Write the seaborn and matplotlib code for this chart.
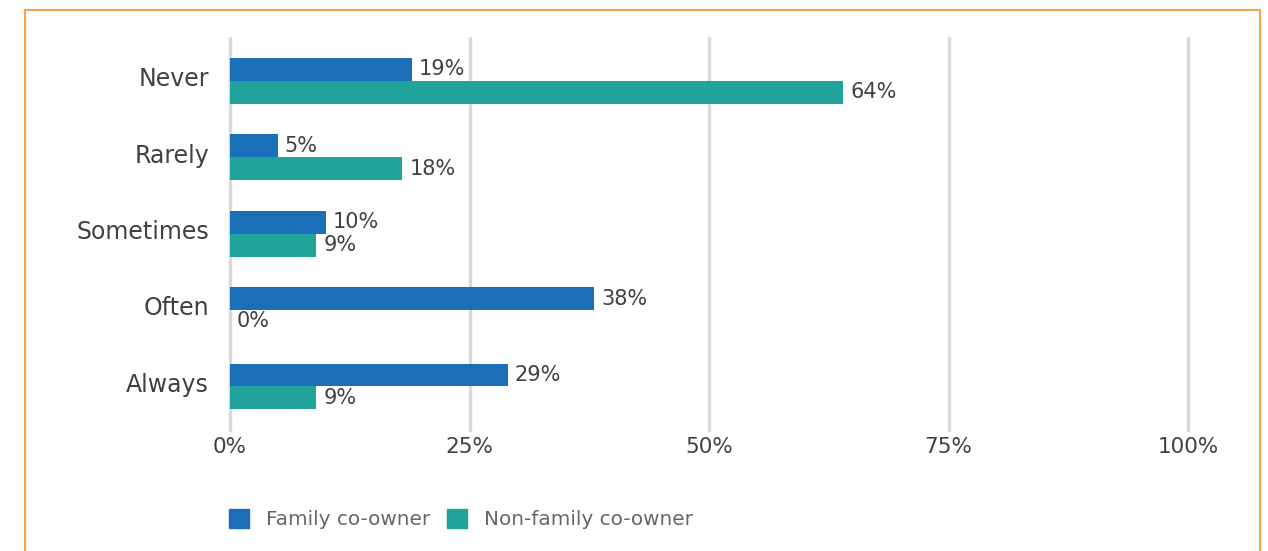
import matplotlib
matplotlib.use("Agg")
import matplotlib.pyplot as plt
import matplotlib.patches as mpatches
import matplotlib.transforms as mtransforms
import seaborn as sns
import pandas as pd

categories = ["Never", "Rarely", "Sometimes", "Often", "Always"]
series_names = ["Family co-owner", "Non-family co-owner"]
family_values = [19, 5, 10, 38, 29]
nonfamily_values = [64, 18, 9, 0, 9]
x_ticks = [0, 25, 50, 75, 100]
x_tick_labels = ["0%", "25%", "50%", "75%", "100%"]

colors = ["#1A6FB8", "#20A39A"]
text_color = "#404040"

df = pd.DataFrame({
    "category": categories * 2,
    "series": [series_names[0]] * len(categories) + [series_names[1]] * len(categories),
    "value": family_values + nonfamily_values,
})

sns.set_theme(style="white")
plt.rcParams["font.family"] = ["DejaVu Sans"]

fig = plt.figure(figsize=(12.68, 5.51), dpi=100)
ax = fig.add_axes([230 / 1268, 1 - 430 / 551, (1188 - 230) / 1268, (430 - 38) / 551])

sns.barplot(data=df, y="category", x="value", hue="series", order=categories,
            hue_order=series_names, palette=colors, orient="h", width=0.6,
            saturation=1, linewidth=0, ax=ax, legend=False)

ax.set_xlim(0, 100)
ax.set_ylim(4.57, -0.56)
ax.set_xticks(x_ticks)
ax.set_xticklabels(x_tick_labels)
ax.grid(axis="x", color="#D9D9D9", linewidth=2.5)
for gl in ax.get_xgridlines():
    gl.set_clip_on(False)
ax.set_axisbelow(True)
for s in ax.spines.values():
    s.set_visible(False)
ax.tick_params(axis="both", length=0, colors=text_color)
ax.tick_params(axis="y", labelsize=17, pad=15)
ax.tick_params(axis="x", labelsize=15.5, pad=5)
shift = mtransforms.ScaledTranslation(0, 3 / 72, fig.dpi_scale_trans)
for lbl in ax.get_yticklabels():
    lbl.set_va("center_baseline")
    lbl.set_transform(lbl.get_transform() + shift)
ax.set_xlabel("")
ax.set_ylabel("")

for cont in ax.containers:
    ax.bar_label(cont, fmt="%d%%", padding=5, fontsize=15, color=text_color)

handles = [mpatches.Patch(color=c, label=n) for c, n in zip(colors, series_names)]
fig.legend(handles=handles, loc="center left", bbox_to_anchor=(211 / 1268, 1 - 519 / 551),
           ncol=2, frameon=False, fontsize=14.4, handlelength=1.0, handleheight=1.08,
           handletextpad=0.85, columnspacing=0.85, labelcolor="#666666")

frame = mpatches.Rectangle((25 / 1268, -0.05), (1260 - 25) / 1268, 1 - 10 / 551 + 0.05,
                           transform=fig.transFigure, fill=False, edgecolor="#F7A24F",
                           linewidth=1.5, clip_on=False)
fig.patches.append(frame)

fig.savefig("out.png", dpi=100, facecolor="white")
